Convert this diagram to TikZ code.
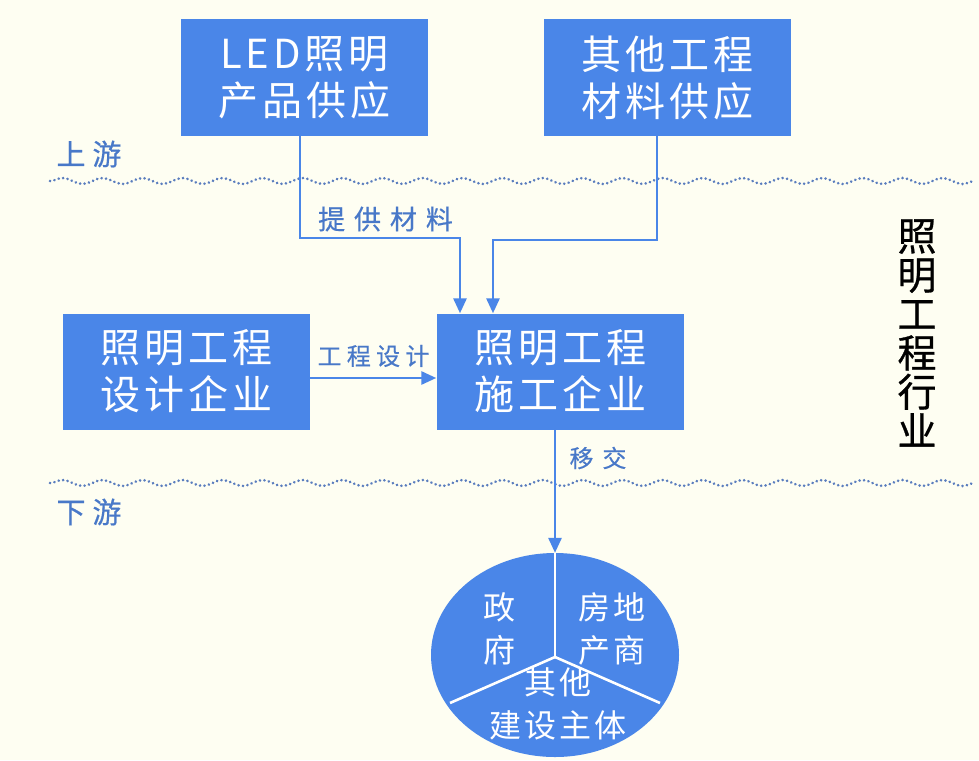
\documentclass[tikz,border=0pt]{standalone}
\usepackage{fontspec}
\newfontfamily\cjk[LetterSpace=10]{Noto Sans CJK SC}
\newfontfamily\cjkcirc[LetterSpace=10]{Noto Sans CJK SC}
\newfontfamily\cjklblA[LetterSpace=33,FakeBold=0.5]{Noto Sans CJK SC}
\newfontfamily\cjklblB[LetterSpace=22,FakeBold=0.5]{Noto Sans CJK SC}
\newfontfamily\cjklblC[LetterSpace=37,FakeBold=0.5]{Noto Sans CJK SC}
\newfontfamily\cjkzone[LetterSpace=24,FakeBold=0.5]{Noto Sans CJK SC}
\newfontfamily\cjkbold[FakeBold=0.7]{Noto Sans CJK SC}
\usetikzlibrary{arrows.meta,decorations.pathmorphing,shapes.geometric}
\definecolor{boxblue}{RGB}{74,134,232}
\definecolor{lblblue}{RGB}{72,120,200}
\definecolor{wavecol}{RGB}{90,125,190}
\definecolor{bgcream}{RGB}{254,254,242}
\tikzset{
  bluebox/.style={fill=boxblue, text=white, minimum width=247pt, minimum height=116pt,
    align=center, inner sep=0pt, font=\cjk\fontsize{40}{47}\selectfont},
  conn/.style={draw=boxblue, line width=2.8pt},
  arr/.style={conn, -{Triangle[length=15pt,width=13pt]}},
  lblwide/.style={text=lblblue, font=\cjklblA\fontsize{27}{28}\selectfont, inner sep=0pt},
  lblnarrow/.style={text=lblblue, font=\cjklblB\fontsize{24}{25}\selectfont, inner sep=0pt},
  lblshort/.style={text=lblblue, font=\cjklblC\fontsize{24}{25}\selectfont, inner sep=0pt},
  zone/.style={text=lblblue, font=\cjkzone\fontsize{29}{30}\selectfont, inner sep=0pt},
  wave/.style={draw=wavecol, line width=2.8pt, dash pattern=on 0.1pt off 4.4pt, line cap=round,
    decorate, decoration={snake, segment length=40pt, amplitude=3pt}},
  divider/.style={draw=white, line width=2.6pt},
  circtext/.style={text=white, align=center, inner sep=0pt, font=\cjkcirc\fontsize{32}{43}\selectfont}
}
\begin{document}
\begin{tikzpicture}[x=1pt,y=-1pt]
\fill[bgcream] (0,0) rectangle (979,760);
\useasboundingbox (0,0) rectangle (979,760);

% boxes
\node[bluebox] (led) at (304.5,77.5) {LED照明\\产品供应};
\node[bluebox] (other) at (667.5,77.5) {其他工程\\材料供应};
\node[bluebox] (build) at (560,371.5) {照明工程\\施工企业};
\node[bluebox] (design) at (186.5,371.5) {照明工程\\设计企业};

% zone labels
\node[zone] (up) at (89,154) {上游};
\node[zone] (down) at (89,512) {下游};

% wavy lines
\coordinate (w1a) at (50,181);
\coordinate (w1b) at (975,181);
\coordinate (w2a) at (50,483);
\coordinate (w2b) at (975,483);
\draw[wave] (w1a) -- (w1b);
\draw[wave] (w2a) -- (w2b);

% connectors
\coordinate (b1) at (460,238);
\coordinate (b2) at (493,240);
\draw[arr] (led.south -| 300,0) |- (b1) -- (build.north -| b1);
\draw[arr] (other.south -| 657,0) |- (b2) -- (build.north -| b2);
\node[lblwide] (supply) at (385.5,219) {提供材料};

\draw[arr] (design.east |- 0,378) -- (build.west |- 0,378);
\node[lblnarrow] (dlabel) at (373.5,356) {工程设计};

% customer ellipse
\node[ellipse, fill=boxblue, minimum width=248pt, minimum height=204pt, inner sep=0pt] (cust) at (555,655) {};
\coordinate (cc) at (555,657);
\draw[arr] (build.south -| cust.north) -- (cust.north);
\node[lblshort] (handover) at (598,458) {移交};

\draw[divider] (cc) -- (cust.north);
\draw[divider] (cc) -- (450,703);
\draw[divider] (cc) -- (660,703);

\node[circtext] (gov) at (499,629) {政\\府};
\node[circtext] (estate) at (612,629) {房地\\产商};
\node[circtext] (others) at (558,704) {其他\\建设主体};

% vertical industry label
\node[text=black, align=center, inner sep=0pt, font=\cjkbold\fontsize{39}{39}\selectfont] (industry) at (917,333) {照\\明\\工\\程\\行\\业};
\end{tikzpicture}
\end{document}
